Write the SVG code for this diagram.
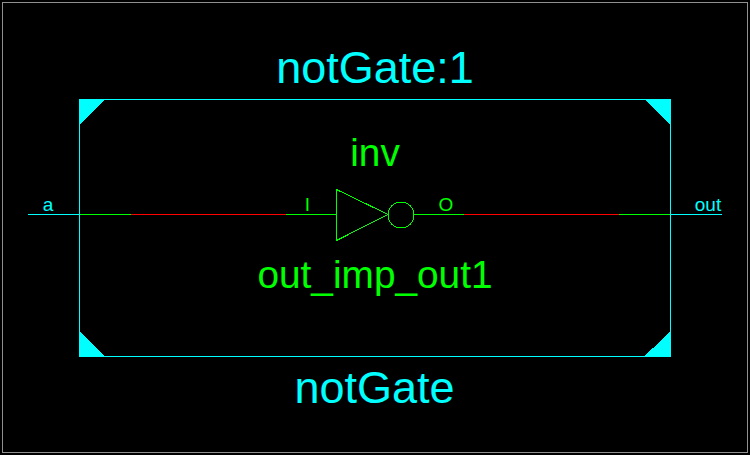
<svg xmlns="http://www.w3.org/2000/svg" width="750" height="455" viewBox="0 0 750 455">
<style>
text{font-family:"Liberation Sans",Arial,sans-serif}
.c{fill:#0ff}
.g{fill:#0f0}
.w{fill:none;stroke-width:1;shape-rendering:crispEdges}
.a{shape-rendering:crispEdges}
.big{font-size:45px;text-anchor:middle}
.mid{font-size:38.8px;text-anchor:middle}
.sm{font-size:19px;text-anchor:middle}
</style>
<rect width="750" height="455" fill="#000"/>
<rect x="2.5" y="2.5" width="745" height="450" fill="none" stroke="#909090" stroke-width="1" shape-rendering="crispEdges"/>
<g id="connectors">
<path class="w" stroke="#0ff" d="M28 214.5H80M670 214.5H722"/>
<path class="w" stroke="#0f0" d="M80 214.5H131M286 214.5H337M414 214.5H464M619 214.5H670"/>
<path class="w" stroke="#f00" d="M131 214.5H286M464 214.5H619"/>
</g>
<g id="notGate">
<rect class="w" stroke="#0ff" x="79.5" y="99.5" width="591" height="257"/>
<path class="c a" d="M79 99H106L79 125ZM671 99H644.500L671 125ZM79 357H106L79 331ZM671 357H643.500L671 331Z"/>
<text class="c big" x="375" y="83">notGate:1</text>
<text class="c big" x="374.500" y="403">notGate</text>
</g>
<g id="port-a"><text class="c sm" x="48" y="211">a</text></g>
<g id="port-out"><text class="c sm" x="708" y="211">out</text></g>
<g id="inv">
<path class="a" fill="none" stroke="#0f0" d="M336.5 189.5V240.5L388 214.5Z"/>
<circle class="a" cx="401" cy="215" r="13" fill="none" stroke="#0f0"/>
<text class="g mid" x="375" y="166">inv</text>
<text class="g mid" x="375" y="288">out_imp_out1</text>
<text class="g sm" x="307.500" y="211">I</text>
<text class="g sm" x="446" y="211">O</text>
</g>
</svg>
